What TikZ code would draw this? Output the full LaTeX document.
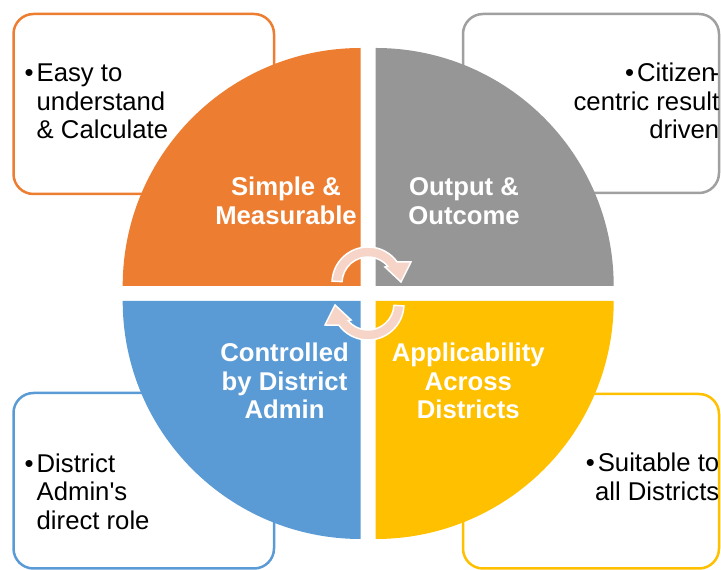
\documentclass[tikz,border=0pt]{standalone}
\usepackage{fontspec}
\setmainfont{Liberation Sans}[Ligatures=TeXOff]
\usetikzlibrary{calc}
\definecolor{qorange}{HTML}{ED7D31}
\definecolor{qgray}{HTML}{969696}
\definecolor{qgrayline}{HTML}{A0A0A0}
\definecolor{qblue}{HTML}{5B9BD5}
\definecolor{qyellow}{HTML}{FFC000}
\definecolor{qpink}{RGB}{246,212,200}
\tikzset{
  boxsty/.style={line width=2.5pt, rounded corners=20pt},
  qtext/.style={text=white, font=\bfseries\fontsize{25.7}{28.5}\selectfont, inner sep=0pt, anchor=base},
  btext/.style={text=black, font=\fontsize{25.7}{28.5}\selectfont, inner sep=0pt},
  arrowsty/.style={fill=qpink, draw=white, line width=1.5pt, line join=miter},
}
\begin{document}
\begin{tikzpicture}[x=1pt,y=1pt]
\useasboundingbox (0,0) rectangle (721,570);
% boxes
\draw[boxsty, qorange] (13.5,376) rectangle (274,556);
\draw[boxsty, qgrayline] (463,377) rectangle (719,556);
\draw[boxsty, qblue] (13.5,1.5) rectangle (274,177);
\draw[boxsty, qyellow] (463,1.5) rectangle (719,176);
% quadrants
\fill[qorange] (360.7,284) -- ++(-238,0) arc[start angle=180,end angle=90,radius=238] -- cycle;
\fill[qgray] (375.7,284) -- ++(238,0) arc[start angle=0,end angle=90,radius=238] -- cycle;
\fill[qblue] (360.7,269) -- ++(-238,0) arc[start angle=180,end angle=270,radius=238] -- cycle;
\fill[qyellow] (375.7,269) -- ++(238,0) arc[start angle=0,end angle=-90,radius=238] -- cycle;
% circular arrows
\coordinate (ca) at (368,287);
\coordinate (cb) at (368,266);
\filldraw[arrowsty] ($(ca)+(177:36)$) arc[start angle=177,end angle=36,radius=36]
  -- ($(ca)+(43,21)$) -- ($(ca)+(33,1)$) -- ($(ca)+(17,16)$)
  -- ($(ca)+(40:26)$) arc[start angle=40,end angle=177,radius=26] -- cycle;
\filldraw[arrowsty] ($(cb)+(-3:36)$) arc[start angle=-3,end angle=-144,radius=36]
  -- ($(cb)+(-43,-21)$) -- ($(cb)+(-33,-1)$) -- ($(cb)+(-17,-16)$)
  -- ($(cb)+(-140:26)$) arc[start angle=-140,end angle=-3,radius=26] -- cycle;
% quadrant texts
\node[qtext] (q1) at (286,374.3) {\begin{tabular}[t]{@{}c@{}}Simple \&\\Measurable\end{tabular}};
\node[qtext] (q2) at (464,374.3) {\begin{tabular}[t]{@{}c@{}}Output \&\\Outcome\end{tabular}};
\node[qtext] (q3) at (284.5,208.3) {\begin{tabular}[t]{@{}c@{}}Controlled\\by District\\Admin\end{tabular}};
\node[qtext] (q4) at (468.3,208.3) {\begin{tabular}[t]{@{}c@{}}Applicability\\Across\\Districts\end{tabular}};
% box texts
\node[btext, anchor=base west] (t1) at (24.5,488.3) {\begin{tabular}[t]{@{}l@{\hspace{3pt}}l@{}}•&Easy to\\&understand\\&\& Calculate\end{tabular}};
\node[btext, anchor=base east] (t2) at (719.5,488) {\begin{tabular}[t]{@{}r@{}}•\hspace{3pt}Citizen\kern-5pt-\hspace{8pt}\\centric result\\driven\hspace{4.5pt}\end{tabular}};
\node[btext, anchor=base west] (t3) at (24.5,97.7) {\begin{tabular}[t]{@{}l@{\hspace{3pt}}l@{}}•&District\\&Admin's\\&direct role\end{tabular}};
\node[btext, anchor=base east] (t4) at (719.5,98.3) {\begin{tabular}[t]{@{}r@{}}•\hspace{3pt}Suitable to\\all Districts\end{tabular}};
\end{tikzpicture}
\end{document}
